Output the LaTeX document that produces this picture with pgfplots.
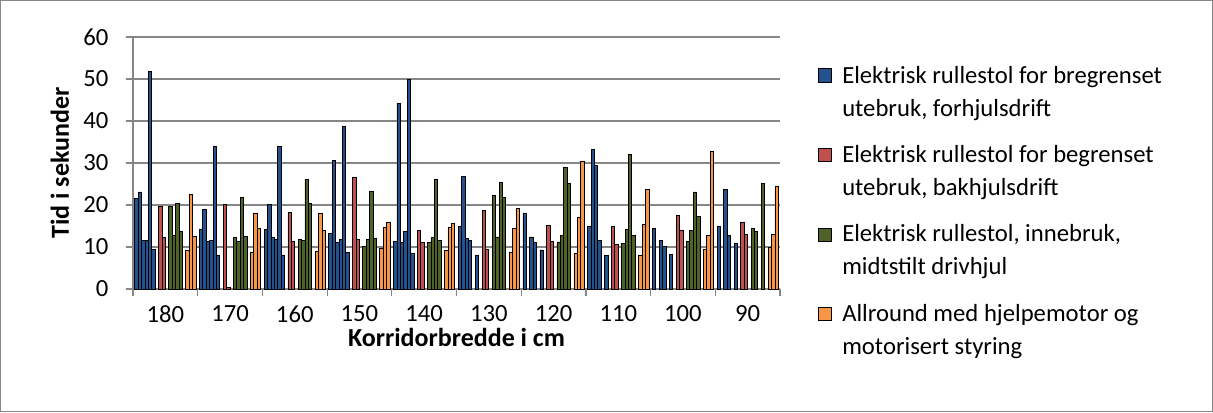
\documentclass[border=0pt]{standalone}
\usepackage{fontspec}
\setmainfont{Carlito}
\usepackage{pgfplots}
\pgfplotsset{compat=1.18}
\definecolor{serieA}{HTML}{24528E}
\definecolor{serieB}{HTML}{C0504D}
\definecolor{serieC}{HTML}{4F6228}
\definecolor{serieD}{HTML}{F79646}
\definecolor{rutenett}{HTML}{868686}

\begin{document}
\begin{tikzpicture}
\useasboundingbox (0pt,0pt) rectangle (909.75pt,309pt);
\draw[rutenett, line width=0.75pt] (0.375pt,0.375pt) rectangle (909.375pt,308.625pt);
\begin{axis}[
  at={(99.75pt,92.25pt)}, anchor=south west,
  scale only axis, width=485.25pt, height=189pt,
  xmin=0, xmax=190, ymin=0, ymax=60,
  ytick={0,10,...,60},
  xtick={9.5,28.5,...,180.5},
  xticklabels={180,170,160,150,140,130,120,110,100,90},
  minor xtick={0,19,...,190},
  axis x line*=bottom, axis y line*=left,
  axis line style={rutenett, line width=0.9pt, -},
  ymajorgrids, grid style={rutenett, line width=0.9pt},
  tick align=outside,
  major x tick style={draw=none},
  minor x tick style={rutenett, line width=0.9pt},
  major y tick style={rutenett, line width=0.9pt},
  major tick length=5pt, minor tick length=5pt,
  tick label style={font=\fontsize{18.5}{22}\selectfont},
  /pgf/number format/assume math mode=true,
  yticklabel style={xshift=-10pt},
  xticklabel style={yshift=-4pt},
  xlabel={Korridorbredde i cm},
  ylabel={Tid i sekunder},
  label style={font=\bfseries\fontsize{19.5}{23}\selectfont},
  xlabel style={at={(axis description cs:0.5,-0.194)}, anchor=center},
  ylabel style={at={(axis description cs:-0.113,0.5)}, anchor=center},
  legend image code/.code={\draw[#1] (0pt,7.5pt) rectangle (9.75pt,17.3pt);},
  legend style={at={(1,1)}, anchor=north west, xshift=25pt, yshift=-17.5pt,
    draw=none, fill=none, font=\fontsize{18.5}{24.75}\selectfont,
    cells={anchor=west, align=left}, row sep=16.5pt,
    /tikz/every odd column/.append style={column sep=6pt}},
]
% forhjulsdrift
\addplot[ybar, bar width=1, bar shift=0pt, fill=serieA, draw=black, line width=0.6pt, forget plot] coordinates {
 (1,21.6)(2,23.1)(3,11.6)(4,11.6)(5,51.7)(6,9.4)
 (20,14.3)(21,18.9)(22,11.4)(23,11.6)(24,33.9)(25,7.9)
 (39,14.2)(40,20.2)(41,12.4)(42,11.7)(43,33.9)(44,8.1)
 (58,13.3)(59,30.7)(60,11.0)(61,11.8)(62,38.8)(63,8.7)
 (77,11.4)(78,44.2)(79,11.1)(80,13.6)(81,50.0)(82,8.4)
 (96,14.8)(97,26.7)(98,12.1)(99,11.6)(101,8.1)
 (115,18.1)(117,12.4)(118,11.0)(120,9.3)
 (134,14.8)(135,33.2)(136,29.4)(137,11.6)(139,8.0)
 (153,14.4)(155,11.5)(156,10.2)(158,8.2)
 (172,15.0)(174,23.8)(175,12.7)(177,10.9)
};
% bakhjulsdrift
\addplot[ybar, bar width=1, bar shift=0pt, fill=serieB, draw=black, line width=0.6pt, forget plot] coordinates {
 (8,19.6)(9,12.2)(27,20.2)(28,0.3)(46,18.3)(47,11.4)(65,26.6)(66,11.7)
 (84,14.0)(85,11.1)(103,18.8)(104,9.4)(122,15.1)(123,11.4)(141,14.8)(142,10.7)
 (160,17.6)(161,13.9)(179,15.8)(180,12.9)
};
% innebruk
\addplot[ybar, bar width=1, bar shift=0pt, fill=serieC, draw=black, line width=0.6pt, forget plot] coordinates {
 (11,19.7)(12,12.7)(13,20.3)(14,13.8)
 (30,12.2)(31,11.3)(32,21.9)(33,12.6)
 (49,11.9)(50,11.6)(51,26.1)(52,20.3)
 (68,10.2)(69,11.8)(70,23.2)(71,12.1)
 (87,11.0)(88,12.2)(89,26.2)(90,11.6)
 (106,22.3)(107,12.4)(108,25.4)(109,21.7)
 (125,11.2)(126,12.8)(127,28.9)(128,25.1)
 (144,10.9)(145,14.1)(146,32.0)(147,12.8)
 (163,11.3)(164,13.9)(165,23.1)(166,17.2)
 (182,14.5)(183,13.6)(185,25.1)
};
% allround
\addplot[ybar, bar width=1, bar shift=0pt, fill=serieD, draw=black, line width=0.6pt, forget plot] coordinates {
 (16,9.2)(17,22.6)(18,12.6)
 (35,8.6)(36,18.1)(37,14.5)
 (54,8.9)(55,18.0)(56,13.9)
 (73,9.7)(74,14.6)(75,15.9)
 (92,9.3)(93,14.6)(94,15.7)
 (111,8.7)(112,14.4)(113,19.1)
 (130,8.5)(131,17.1)(132,30.5)
 (149,7.9)(150,15.3)(151,23.8)
 (168,9.5)(169,12.7)(170,32.7)
 (187,10.0)(188,12.9)(189,24.4)
};
\addlegendimage{fill=serieA, draw=black, line width=0.75pt}
\addlegendentry{Elektrisk rullestol for bregrenset\\utebruk, forhjulsdrift}
\addlegendimage{fill=serieB, draw=none}
\addlegendentry{Elektrisk rullestol for begrenset\\utebruk, bakhjulsdrift}
\addlegendimage{fill=serieC, draw=none}
\addlegendentry{Elektrisk rullestol, innebruk,\\midtstilt drivhjul}
\addlegendimage{fill=serieD, draw=black, line width=0.75pt}
\addlegendentry{Allround med hjelpemotor og\\motorisert styring}
\end{axis}
\end{tikzpicture}
\end{document}
